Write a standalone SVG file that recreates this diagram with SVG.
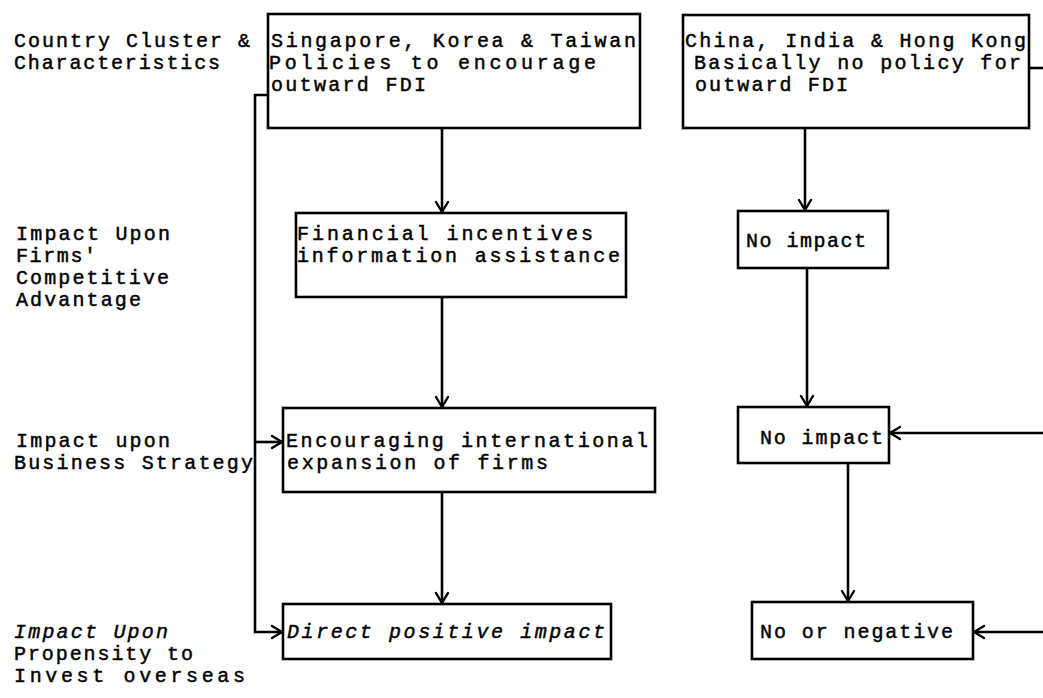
<svg xmlns="http://www.w3.org/2000/svg" width="1043" height="698" viewBox="0 0 1043 698">
  <style>
    .bg { fill: #ffffff; }
    .box { fill: #ffffff; stroke: #000000; stroke-width: 2.6; }
    .t { font-family: "Liberation Mono", "DejaVu Sans Mono", monospace; font-size: 20px; fill: #000000; stroke: #000000; stroke-width: 0.45; }
    .it { font-style: italic; }
    .wire { fill: none; stroke: #000000; stroke-width: 2.6; }
    .arrow { fill: none; stroke: #000000; stroke-width: 2.4; stroke-linecap: round; stroke-linejoin: round; }
  </style>
  <defs>
    <marker id="head" viewBox="-13 -8 16 16" refX="0" refY="0" markerWidth="16" markerHeight="16" markerUnits="userSpaceOnUse" orient="auto">
      <path class="arrow" d="M-10,-6 L0,0 L-10,6"/>
    </marker>
  </defs>

  <rect class="bg" x="0" y="0" width="1043" height="698"/>

  <!-- row labels -->
  <g id="labels">
    <text class="t" x="14" y="47" textLength="236" lengthAdjust="spacing">Country Cluster &amp;</text>
    <text class="t" x="14" y="69" textLength="206" lengthAdjust="spacing">Characteristics</text>
    <text class="t" x="16" y="240" textLength="154" lengthAdjust="spacing">Impact Upon</text>
    <text class="t" x="16" y="262" textLength="80" lengthAdjust="spacing">Firms'</text>
    <text class="t" x="16" y="284" textLength="153" lengthAdjust="spacing">Competitive</text>
    <text class="t" x="16" y="306" textLength="125" lengthAdjust="spacing">Advantage</text>
    <text class="t" x="16" y="447" textLength="154" lengthAdjust="spacing">Impact upon</text>
    <text class="t" x="14" y="469" textLength="239" lengthAdjust="spacing">Business Strategy</text>
    <text class="t it" x="14" y="638" textLength="154" lengthAdjust="spacing">Impact Upon</text>
    <text class="t" x="14" y="660" textLength="179" lengthAdjust="spacing">Propensity to</text>
    <text class="t" x="14" y="682" textLength="231" lengthAdjust="spacing">Invest overseas</text>
  </g>

  <!-- connectors -->
  <g id="connectors">
    <line class="wire" x1="442" y1="128" x2="442" y2="212" marker-end="url(#head)"/>
    <line class="wire" x1="442" y1="297" x2="442" y2="407" marker-end="url(#head)"/>
    <line class="wire" x1="442" y1="492" x2="442" y2="603" marker-end="url(#head)"/>
    <line class="wire" x1="805" y1="128" x2="805" y2="210" marker-end="url(#head)"/>
    <line class="wire" x1="807" y1="268" x2="807" y2="406" marker-end="url(#head)"/>
    <line class="wire" x1="848" y1="463" x2="848" y2="601" marker-end="url(#head)"/>
    <polyline class="wire" points="268,95 255,95 255,632 282,632" marker-end="url(#head)"/>
    <line class="wire" x1="255" y1="442" x2="282" y2="442" marker-end="url(#head)"/>
    <line class="wire" x1="1029" y1="68" x2="1043" y2="68"/>
    <line class="wire" x1="1043" y1="433" x2="890" y2="433" marker-end="url(#head)"/>
    <line class="wire" x1="1043" y1="632" x2="974" y2="632" marker-end="url(#head)"/>
  </g>

  <g id="sg-kr-tw">
    <rect class="box" x="268" y="14" width="372" height="114"/>
    <text class="t" x="271" y="47" textLength="365" lengthAdjust="spacing">Singapore, Korea &amp; Taiwan</text>
    <text class="t" x="269" y="69" textLength="327" lengthAdjust="spacing">Policies to encourage</text>
    <text class="t" x="271" y="91" textLength="155" lengthAdjust="spacing">outward FDI</text>
  </g>

  <g id="cn-in-hk">
    <rect class="box" x="683" y="15" width="346" height="113"/>
    <text class="t" x="685" y="47" textLength="341" lengthAdjust="spacing">China, India &amp; Hong Kong</text>
    <text class="t" x="694" y="69" textLength="327" lengthAdjust="spacing">Basically no policy for</text>
    <text class="t" x="695" y="91" textLength="153" lengthAdjust="spacing">outward FDI</text>
  </g>

  <g id="incentives">
    <rect class="box" x="296" y="213" width="330" height="84"/>
    <text class="t" x="297" y="240" textLength="296" lengthAdjust="spacing">Financial incentives</text>
    <text class="t" x="297" y="262" textLength="323" lengthAdjust="spacing">information assistance</text>
  </g>

  <g id="no-impact-advantage">
    <rect class="box" x="738" y="211" width="150" height="57"/>
    <text class="t" x="746" y="247" textLength="120" lengthAdjust="spacing">No impact</text>
  </g>

  <g id="expansion">
    <rect class="box" x="283" y="408" width="372" height="84"/>
    <text class="t" x="286" y="447" textLength="362" lengthAdjust="spacing">Encouraging international</text>
    <text class="t" x="287" y="469" textLength="261" lengthAdjust="spacing">expansion of firms</text>
  </g>

  <g id="no-impact-strategy">
    <rect class="box" x="738" y="407" width="151" height="56"/>
    <text class="t" x="760" y="444" textLength="123" lengthAdjust="spacing">No impact</text>
  </g>

  <g id="positive">
    <rect class="box" x="283" y="604" width="328" height="55"/>
    <text class="t it" x="287" y="638" textLength="318" lengthAdjust="spacing">Direct positive impact</text>
  </g>

  <g id="negative">
    <rect class="box" x="752" y="602" width="221" height="57"/>
    <text class="t" x="760" y="638" textLength="193" lengthAdjust="spacing">No or negative</text>
  </g>
</svg>
